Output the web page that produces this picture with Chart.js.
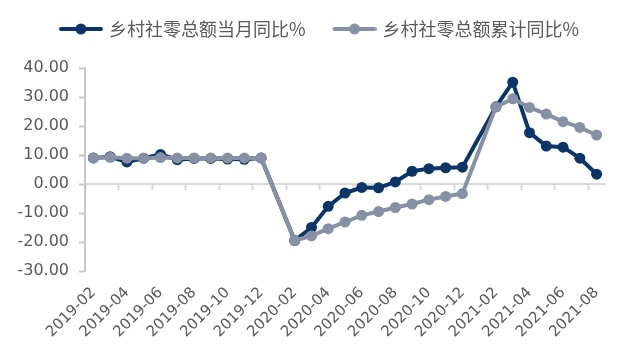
<!DOCTYPE html>
<html>
<head>
<meta charset="utf-8">
<script src="https://cdn.jsdelivr.net/npm/chart.js@4.4.0/dist/chart.umd.min.js"></script>
<style>
  html, body { margin: 0; padding: 0; background: #fff; }
  #wrap { width: 632px; height: 355px; }
</style>
</head>
<body>
<div id="wrap"><canvas id="chart"></canvas></div>
<script>
// months (Jan of 2020 / 2021 have no separate figure, kept as gaps)
const months = [
  "2019-02", "2019-03", "2019-04", "2019-05", "2019-06", "2019-07", "2019-08",
  "2019-09", "2019-10", "2019-11", "2019-12", "2020-01", "2020-02", "2020-03",
  "2020-04", "2020-05", "2020-06", "2020-07", "2020-08", "2020-09", "2020-10",
  "2020-11", "2020-12", "2021-01", "2021-02", "2021-03", "2021-04", "2021-05",
  "2021-06", "2021-07", "2021-08",
];
//乡村社零总额当月同比%
const monthYoY = [
  9.0, 9.4, 7.6, 8.9, 10.2, 8.4, 8.8, 8.8, 8.6, 8.5, 9.0,
  null, -19.5, -15.0, -7.7, -3.1, -1.2, -1.3, 0.7, 4.4, 5.3, 5.6, 5.8,
  null, 26.6, 35.1, 17.7, 13.1, 12.7, 8.9, 3.4,
];
//乡村社零总额累计同比%
const cumYoY = [
  9.0, 9.2, 8.9, 8.9, 9.1, 9.0, 9.0, 9.0, 9.0, 9.0, 9.0,
  null, -19.5, -17.9, -15.4, -13.1, -10.8, -9.5, -8.1, -6.9, -5.4, -4.3, -3.3,
  null, 26.6, 29.4, 26.4, 24.1, 21.5, 19.5, 16.9,
];

const navy = "#0b3566";
const slate = "#8790a5";
const textGray = "#595959";

//legend marker: short line with a dot in the middle (blank space on the left)
function legendMarker(color) {
  const blank = 26;
  const c = document.createElement("canvas");
  c.width = 44 + blank;
  c.height = 12;
  const ctx = c.getContext("2d");
  ctx.strokeStyle = color;
  ctx.lineWidth = 4;
  ctx.lineCap = "round";
  ctx.beginPath();
  ctx.moveTo(blank + 2, 6);
  ctx.lineTo(blank + 42, 6);
  ctx.stroke();
  ctx.fillStyle = color;
  ctx.beginPath();
  ctx.arc(blank + 22, 6, 5.5, 0, Math.PI * 2);
  ctx.fill();
  return c;
}

//extra room between legend and plot
const legendSpacing = {
  id: "legendSpacing",
  beforeLayout(chart) {
    const legend = chart.legend;
    if (legend && !legend._spaced) {
      const fit = legend.fit;
      legend.fit = function () {
        fit.call(this);
        this.height += 20;
      };
      legend._spaced = true;
    }
  },
};

new Chart(document.getElementById("chart"), {
  type: "line",
  plugins: [legendSpacing],
  data: {
    labels: months,
    datasets: [
      {
        label: "乡村社零总额当月同比%",
        data: monthYoY,
        borderColor: navy,
        backgroundColor: navy,
        order: 1,
      },
      {
        label: "乡村社零总额累计同比%",
        data: cumYoY,
        borderColor: slate,
        backgroundColor: slate,
        order: 0,
      },
    ],
  },
  options: {
    responsive: true,
    maintainAspectRatio: false,
    animation: false,
    layout: { padding: { top: 16, left: 10, right: 27, bottom: 0 } },
    elements: {
      line: { borderWidth: 4, tension: 0, fill: false },
      point: { radius: 5.5, borderWidth: 0, hoverRadius: 5.5 },
    },
    spanGaps: true,
    plugins: {
      tooltip: { enabled: false },
      legend: {
        position: "top",
        labels: {
          usePointStyle: true,
          pointStyleWidth: 64,
          padding: 4,
          color: textGray,
          font: { family: "'Noto Sans CJK SC'", size: 18 },
          generateLabels: (chart) =>
            chart.data.datasets.map((ds, i) => ({
              text: ds.label,
              pointStyle: legendMarker(ds.borderColor),
              fillStyle: ds.borderColor,
              strokeStyle: ds.borderColor,
              lineWidth: 0,
              fontColor: textGray,
              hidden: false,
              datasetIndex: i,
            })),
        },
      },
    },
    scales: {
      //axis line through zero with tick marks every two months
      x: {
        type: "category",
        position: { y: 0 },
        offset: true,
        grid: {
          offset: true,
          drawOnChartArea: false,
          drawTicks: true,
          tickLength: 5,
          tickWidth: 2,
          tickColor: (ctx) => (ctx.index % 2 === 0 ? "#d9d9d9" : "rgba(0,0,0,0)"),
        },
        border: { display: true, color: "#d9d9d9", width: 2 },
        ticks: { display: false },
      },
      //month labels at the bottom
      xl: {
        type: "category",
        position: "bottom",
        offset: true,
        grid: { display: false, drawTicks: false },
        border: { display: false },
        afterFit: (s) => { s.height = 84; },
        ticks: {
          autoSkip: false,
          minRotation: 45,
          maxRotation: 45,
          padding: 13,
          color: textGray,
          font: { family: "'DejaVu Sans'", size: 15 },
          callback: function (value, index) {
            return index % 2 === 0 ? this.getLabelForValue(value) : "";
          },
        },
      },
      y: {
        min: -30,
        max: 40,
        afterFit: (s) => { s.width = 75; },
        grid: {
          drawOnChartArea: false,
          drawTicks: true,
          tickLength: 6,
          tickWidth: 2,
          tickColor: "#c8c8c8",
        },
        border: { display: true, color: "#c8c8c8", width: 2 },
        ticks: {
          stepSize: 10,
          padding: 10,
          color: textGray,
          font: { family: "'DejaVu Sans'", size: 16 },
          callback: (v) => v.toFixed(2),
        },
      },
    },
  },
});
</script>
</body>
</html>
